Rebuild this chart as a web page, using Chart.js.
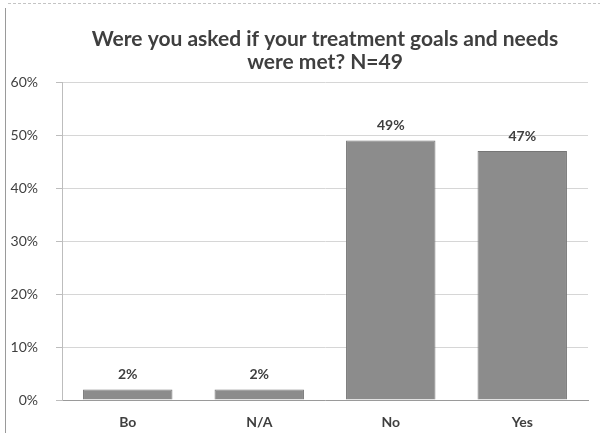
<!DOCTYPE html>
<html>
<head>
<meta charset="utf-8">
<script src="https://cdn.jsdelivr.net/npm/chart.js@4/dist/chart.umd.min.js"></script>
<style>
  html, body { margin: 0; padding: 0; background: #fff; }
  #wrap { width: 600px; height: 433px; position: relative; }
</style>
</head>
<body>
<div id="wrap"><canvas id="c" width="600" height="433"></canvas></div>
<script>
const categories = ['Bo', 'N/A', 'No', 'Yes'];
const percentValues = [2, 2, 49, 47];
const titleLines = ['Were you asked if your treatment goals and needs', 'were met? N=49'];

const FONT = 'Lato, "Open Sans", sans-serif';
const TEXT = '#3f3f3f';

// Writes the percentage above each bar
const valueLabels = {
  id: 'valueLabels',
  afterDatasetsDraw(chart) {
    const ctx = chart.ctx;
    const meta = chart.getDatasetMeta(0);
    ctx.save();
    ctx.font = 'bold 14px ' + FONT;
    ctx.fillStyle = TEXT;
    ctx.textAlign = 'center';
    ctx.textBaseline = 'bottom';
    meta.data.forEach((bar, i) => {
      ctx.fillText(percentValues[i] + '%', bar.x, bar.y - 8);
    });
    ctx.restore();
  }
};

// Thin frame lines along the left and top edges
const frame = {
  id: 'frame',
  beforeDraw(chart) {
    const ctx = chart.ctx;
    ctx.save();
    ctx.strokeStyle = '#9a9a9a';
    ctx.lineWidth = 1;
    ctx.beginPath();
    ctx.moveTo(5.5, 8);
    ctx.lineTo(5.5, 433);
    ctx.stroke();
    ctx.strokeStyle = '#c4c4c4';
    ctx.setLineDash([3, 2]);
    ctx.beginPath();
    ctx.moveTo(8, 3.5);
    ctx.lineTo(600, 3.5);
    ctx.stroke();
    ctx.restore();
  }
};

new Chart(document.getElementById('c'), {
  type: 'bar',
  data: {
    labels: categories,
    datasets: [{
      data: percentValues,
      backgroundColor: '#8c8c8c',
      borderColor: '#767676',
      borderWidth: 1,
      barPercentage: 0.68,
      categoryPercentage: 1.0
    }]
  },
  options: {
    responsive: false,
    animation: false,
    layout: { padding: { left: 6, right: 12, top: 28, bottom: 0 } },
    plugins: {
      legend: { display: false },
      tooltip: { enabled: false },
      title: {
        display: true,
        text: titleLines,
        fullSize: false,
        color: TEXT,
        font: { family: FONT, size: 21, weight: 'bold', lineHeight: 1.1 },
        padding: { top: 0, bottom: 8 }
      }
    },
    scales: {
      x: {
        grid: { display: false, drawTicks: false },
        border: { color: '#9a9a9a' },
        ticks: { color: TEXT, font: { family: FONT, size: 14, weight: 'bold' }, padding: 14 },
        afterFit: scale => { scale.height = 33; }
      },
      y: {
        min: 0,
        max: 60,
        ticks: {
          stepSize: 10,
          color: TEXT,
          font: { family: FONT, size: 14 },
          padding: 18,
          callback: v => v + '%'
        },
        grid: { color: '#d6d6d6', tickLength: 6, tickColor: '#bdbdbd' },
        border: { color: '#bdbdbd' },
        afterFit: scale => { scale.width = 56; }
      }
    }
  },
  plugins: [frame, valueLabels]
});
</script>
</body>
</html>
